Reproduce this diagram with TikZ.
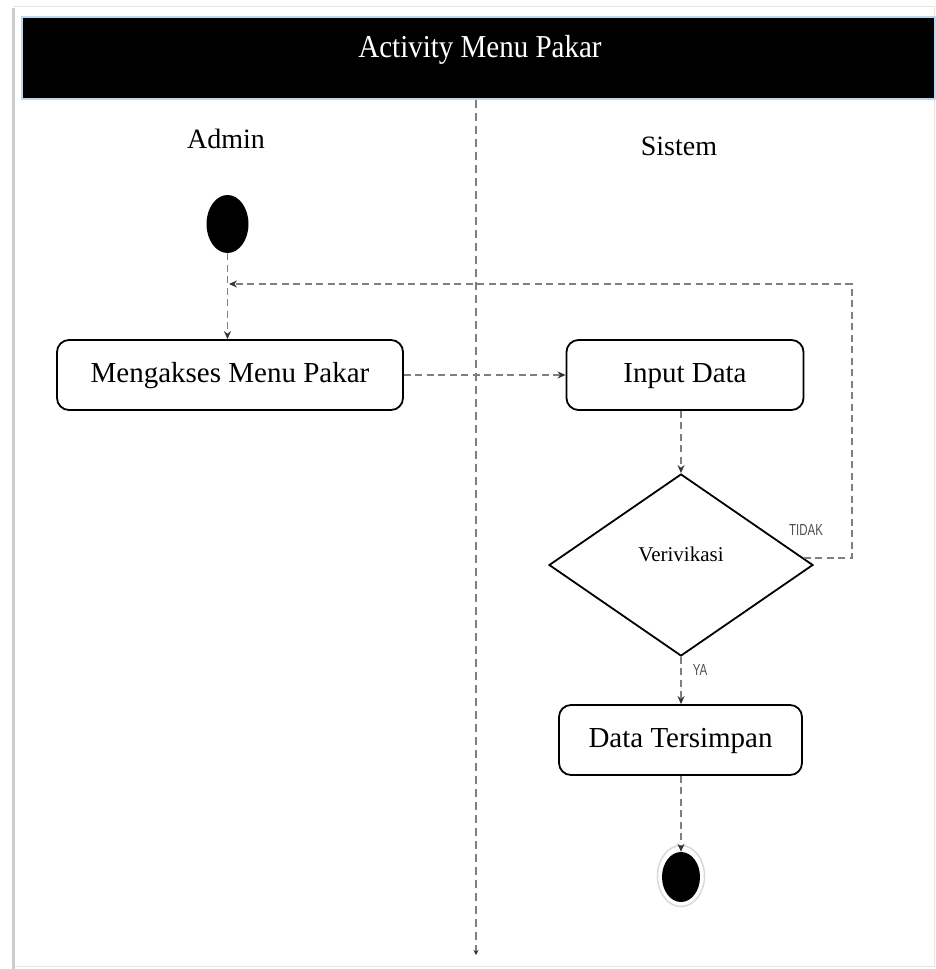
\documentclass[tikz,border=0pt]{standalone}
\usepackage{fontspec}
\usepackage{graphicx}
\setmainfont{Liberation Serif}
\newfontfamily\labelsans{Liberation Sans}
\usetikzlibrary{shapes.geometric,arrows.meta}

\definecolor{headerblue}{HTML}{BDD7EE}
\definecolor{flowgray}{HTML}{7F7F7F}
\definecolor{tagtext}{HTML}{505050}

\tikzset{
  actbox/.style={draw=black, line width=1.8pt, rounded corners=12pt,
    minimum height=70pt, inner sep=0pt,
    font=\fontsize{29}{34}\selectfont, text height=19pt, text depth=5pt},
  flow/.style={draw=flowgray, line width=1.4pt, dash pattern=on 7pt off 4.5pt,
    -{Stealth[length=8pt,width=7pt,black!80]}},
  lane/.style={draw=flowgray, line width=1.2pt, dash pattern=on 8pt off 5pt,
    -{Stealth[length=5pt,width=5pt,black!80]}},
  lanetitle/.style={font=\fontsize{28}{34}\selectfont, anchor=base},
  guardtag/.style={font=\labelsans\fontsize{16}{18}\selectfont, text=tagtext, inner sep=0pt}
}

\begin{document}
\begin{tikzpicture}[x=1pt,y=-1pt]
  \useasboundingbox (0,0) rectangle (936,969);

  % page frame
  \draw[gray!20, line width=0.8pt] (13,6) -- (934,6) -- (934,966) -- (13,966);
  \draw[gray!40, line width=3pt] (13,8) -- (13,969);

  % header band
  \node[draw=headerblue, fill=black, line width=2pt, minimum width=913pt,
        minimum height=82pt, inner sep=0pt, anchor=north west] (header) at (21,16) {};
  \node[text=white, font=\fontsize{29}{34}\selectfont, anchor=base] (title) at (480,57)
    {\scalebox{1}[1.1]{Activity Menu Pakar}};

  % swimlane divider
  \coordinate (laneTop) at (476,100);
  \coordinate (laneBot) at (476,955);
  \draw[lane] (laneTop) -- (laneBot);

  % lane titles
  \node[lanetitle] (admin) at (226,148) {Admin};
  \node[lanetitle] (sistem) at (679,155) {Sistem};

  % activity nodes
  \node[ellipse, fill=black, minimum width=42pt, minimum height=58pt, inner sep=0pt] (start) at (227.5,224) {};
  \node[actbox, minimum width=346pt] (akses) at (230,375) {Mengakses Menu Pakar};
  \node[actbox, minimum width=237pt] (input) at (685,375) {Input Data};
  \node[diamond, draw=black, line width=1.8pt, minimum width=264pt, minimum height=182pt, inner sep=0pt] (verif) at (681,565) {};
  \node[font=\fontsize{21}{24}\selectfont] (veriftext) at (681,554) {Verivikasi};
  \node[actbox, minimum width=243pt] (simpan) at (680.5,740) {Data Tersimpan};
  \node[ellipse, draw=gray!30, line width=1.5pt, minimum width=47pt, minimum height=61pt, inner sep=0pt] (endring) at (681,876) {};
  \node[ellipse, fill=black, minimum width=38pt, minimum height=50pt, inner sep=0pt] (finish) at (681,877) {};

  % guard labels
  \node[guardtag] (tidak) at (806,530) {\scalebox{0.72}[1]{TIDAK}};
  \node[guardtag] (ya) at (700,670) {\scalebox{0.72}[1]{YA}};

  % loop-back route
  \coordinate (loopR) at (852,558);
  \coordinate (loopIn) at (229,284);

  % control flow
  \draw[flow] (start.south) -- (start.south |- akses.north);
  \draw[flow] (akses.east) -- (input.west);
  \draw[flow] (verif.north |- input.south) -- (verif.north);
  \draw[flow] (verif.south) -- (verif.south |- simpan.north);
  \draw[flow] (verif.south |- simpan.south) -- (finish.north);
  \draw[flow] ([shift={(-10,-7)}]verif.east) -- (loopR) |- (loopIn);
\end{tikzpicture}
\end{document}
